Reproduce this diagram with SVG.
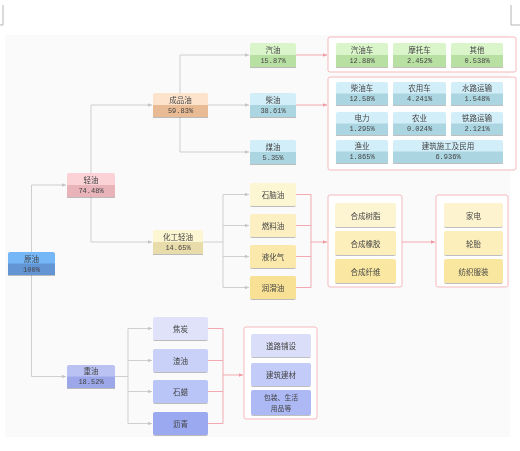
<svg xmlns="http://www.w3.org/2000/svg" width="520" height="451" viewBox="0 0 520 451">
<defs>
<style>
text{font-family:"Noto Sans CJK SC","Liberation Sans",sans-serif;font-size:7.5px;fill:#444;text-anchor:middle;dominant-baseline:central}
.p{font-family:"Liberation Mono","Noto Sans CJK SC",monospace;font-size:7px}
.s{font-size:6.8px}
.gl{fill:none;stroke:#cfcfcf;stroke-width:1}
.pl{fill:none;stroke:#f2a9b0;stroke-width:1}
.fr{fill:#fff;stroke:#f4b9be;stroke-width:1}
.bx{filter:url(#sh)}
.mk{fill:none;stroke:#b5b5b5;stroke-width:1}
</style>
<filter id="sh" x="-10%" y="-10%" width="120%" height="140%"><feDropShadow dx="0" dy="1" stdDeviation="0.6" flood-color="#000" flood-opacity="0.25"/></filter>
<marker id="ag" markerWidth="5" markerHeight="5" refX="4.5" refY="2.5" orient="auto" markerUnits="userSpaceOnUse"><path d="M0,0.5 L4.5,2.5 L0,4.5 Z" fill="#c4c4c4"/></marker>
<marker id="ap" markerWidth="5" markerHeight="5" refX="4.5" refY="2.5" orient="auto" markerUnits="userSpaceOnUse"><path d="M0,0.5 L4.5,2.5 L0,4.5 Z" fill="#f09aa2"/></marker>
</defs>
<rect x="0" y="0" width="520" height="451" fill="#fff"/>
<path class="mk" d="M3,5 V25 H0 M511,5 V25 H520"/>
<rect x="5" y="35" width="505" height="402" fill="#fafafa"/>

<g id="frames">
<rect class="fr" x="328" y="37" width="188" height="35" rx="2"/>
<rect class="fr" x="328" y="77" width="188" height="93" rx="2"/>
<rect class="fr" x="328" y="195" width="74" height="92" rx="2"/>
<rect class="fr" x="436" y="195" width="72" height="92" rx="2"/>
<rect class="fr" x="244" y="327" width="73" height="92" rx="2"/>
</g>

<g id="connectors">
<path class="gl" d="M31.5,252 V185 H66" marker-end="url(#ag)"/>
<path class="gl" d="M31.5,275 V376.5 H66" marker-end="url(#ag)"/>
<path class="gl" d="M91,173 V105 H152" marker-end="url(#ag)"/>
<path class="gl" d="M91,197 V242 H152" marker-end="url(#ag)"/>
<path class="gl" d="M180,93 V55 H249" marker-end="url(#ag)"/>
<path class="gl" d="M208,105 H249" marker-end="url(#ag)"/>
<path class="gl" d="M180,117 V152 H249" marker-end="url(#ag)"/>
<path class="gl" d="M203,242 H223 M223,194.5 V287.5"/>
<path class="gl" d="M223,194.5 H249" marker-end="url(#ag)"/>
<path class="gl" d="M223,225.5 H249" marker-end="url(#ag)"/>
<path class="gl" d="M223,256.5 H249" marker-end="url(#ag)"/>
<path class="gl" d="M223,287.5 H249" marker-end="url(#ag)"/>
<path class="gl" d="M115,376.5 H128 M128,328.5 V423.5"/>
<path class="gl" d="M128,328.5 H152" marker-end="url(#ag)"/>
<path class="gl" d="M128,360.5 H152" marker-end="url(#ag)"/>
<path class="gl" d="M128,391.5 H152" marker-end="url(#ag)"/>
<path class="gl" d="M128,423.5 H152" marker-end="url(#ag)"/>
<path class="pl" d="M296,55 H327" marker-end="url(#ap)"/>
<path class="pl" d="M296,105 H327" marker-end="url(#ap)"/>
<path class="pl" d="M296,194.5 H311 M296,225.5 H311 M296,256.5 H311 M296,287.5 H311 M311,194.5 V287.5"/>
<path class="pl" d="M311,242 H327" marker-end="url(#ap)"/>
<path class="pl" d="M402,242 H435" marker-end="url(#ap)"/>
<path class="pl" d="M208,328.5 H223 M208,360.5 H223 M208,391.5 H223 M208,423.5 H223 M223,328.5 V423.5"/>
<path class="pl" d="M223,375 H243" marker-end="url(#ap)"/>
</g>

<g id="n-yuanyou" class="bx"><rect x="8" y="252" width="47" height="23" rx="2" fill="#74b6f6"/><rect x="8" y="263.5" width="47" height="11.5" fill="#6394d4"/><text x="31.5" y="258">原油</text><text class="p" x="31.5" y="269.5">100%</text></g>
<g id="n-qingyou" class="bx"><rect x="67" y="173" width="48" height="24" rx="2" fill="#fbd2d6"/><rect x="67" y="185" width="48" height="12" fill="#e8b3b9"/><text x="91" y="179">轻油</text><text class="p" x="91" y="191">74.48%</text></g>
<g id="n-chengpinyou" class="bx"><rect x="153" y="93" width="55" height="24" rx="2" fill="#fde2cc"/><rect x="153" y="105" width="55" height="12" fill="#e9bb95"/><text x="180.5" y="99">成品油</text><text class="p" x="180.5" y="111">59.83%</text></g>
<g id="n-huagong" class="bx"><rect x="153" y="230" width="50" height="24" rx="2" fill="#fdf6d2"/><rect x="153" y="242" width="50" height="12" fill="#e8dcab"/><text x="178" y="236">化工轻油</text><text class="p" x="178" y="248">14.65%</text></g>
<g id="n-zhongyou" class="bx"><rect x="67" y="365" width="48" height="23" rx="2" fill="#bac2f4"/><rect x="67" y="376.5" width="48" height="11.5" fill="#9ba7e8"/><text x="91" y="370.8">重油</text><text class="p" x="91" y="382.2">18.52%</text></g>
<g id="n-qiyou" class="bx"><rect x="250" y="43" width="46" height="24" rx="2" fill="#daf5ca"/><rect x="250" y="55" width="46" height="12" fill="#b9e0a3"/><text x="273" y="49">汽油</text><text class="p" x="273" y="61">15.87%</text></g>
<g id="n-chaiyou" class="bx"><rect x="250" y="93" width="46" height="24" rx="2" fill="#d2eef8"/><rect x="250" y="105" width="46" height="12" fill="#abd5e1"/><text x="273" y="99">柴油</text><text class="p" x="273" y="111">38.61%</text></g>
<g id="n-meiyou" class="bx"><rect x="250" y="140" width="46" height="24" rx="2" fill="#d2eef8"/><rect x="250" y="152" width="46" height="12" fill="#abd5e1"/><text x="273" y="146">煤油</text><text class="p" x="273" y="158">5.35%</text></g>

<g id="n-qiyouche" class="bx"><rect x="336" y="43" width="52" height="24" rx="2" fill="#daf5ca"/><rect x="336" y="55" width="52" height="12" fill="#b9e0a3"/><text x="362" y="49">汽油车</text><text class="p" x="362" y="61">12.88%</text></g>
<g id="n-motuoche" class="bx"><rect x="393" y="43" width="53" height="24" rx="2" fill="#daf5ca"/><rect x="393" y="55" width="53" height="12" fill="#b9e0a3"/><text x="419.5" y="49">摩托车</text><text class="p" x="419.5" y="61">2.452%</text></g>
<g id="n-qita" class="bx"><rect x="451" y="43" width="52" height="24" rx="2" fill="#daf5ca"/><rect x="451" y="55" width="52" height="12" fill="#b9e0a3"/><text x="477" y="49">其他</text><text class="p" x="477" y="61">0.538%</text></g>

<g id="n-chaiyouche" class="bx"><rect x="336" y="82" width="52" height="23" rx="2" fill="#d2eef8"/><rect x="336" y="93.5" width="52" height="11.5" fill="#abd5e1"/><text x="362" y="87.8">柴油车</text><text class="p" x="362" y="99.2">12.58%</text></g>
<g id="n-nongyongche" class="bx"><rect x="393" y="82" width="53" height="23" rx="2" fill="#d2eef8"/><rect x="393" y="93.5" width="53" height="11.5" fill="#abd5e1"/><text x="419.5" y="87.8">农用车</text><text class="p" x="419.5" y="99.2">4.241%</text></g>
<g id="n-shuilu" class="bx"><rect x="451" y="82" width="52" height="23" rx="2" fill="#d2eef8"/><rect x="451" y="93.5" width="52" height="11.5" fill="#abd5e1"/><text x="477" y="87.8">水路运输</text><text class="p" x="477" y="99.2">1.548%</text></g>
<g id="n-dianli" class="bx"><rect x="336" y="112" width="52" height="23" rx="2" fill="#d2eef8"/><rect x="336" y="123.5" width="52" height="11.5" fill="#abd5e1"/><text x="362" y="117.8">电力</text><text class="p" x="362" y="129.2">1.295%</text></g>
<g id="n-nongye" class="bx"><rect x="393" y="112" width="53" height="23" rx="2" fill="#d2eef8"/><rect x="393" y="123.5" width="53" height="11.5" fill="#abd5e1"/><text x="419.5" y="117.8">农业</text><text class="p" x="419.5" y="129.2">0.024%</text></g>
<g id="n-tielu" class="bx"><rect x="451" y="112" width="52" height="23" rx="2" fill="#d2eef8"/><rect x="451" y="123.5" width="52" height="11.5" fill="#abd5e1"/><text x="477" y="117.8">铁路运输</text><text class="p" x="477" y="129.2">2.121%</text></g>
<g id="n-yuye" class="bx"><rect x="336" y="140" width="52" height="23" rx="2" fill="#d2eef8"/><rect x="336" y="151.5" width="52" height="11.5" fill="#abd5e1"/><text x="362" y="145.8">渔业</text><text class="p" x="362" y="157.2">1.865%</text></g>
<g id="n-jianzhu" class="bx"><rect x="393" y="140" width="110" height="23" rx="2" fill="#d2eef8"/><rect x="393" y="151.5" width="110" height="11.5" fill="#abd5e1"/><text x="448" y="145.8">建筑施工及民用</text><text class="p" x="448" y="157.2">6.936%</text></g>

<g id="n-shinaoyou" class="bx"><rect x="250" y="183" width="46" height="23" rx="2" fill="#fdf6d3"/><text x="273" y="194.5">石脑油</text></g>
<g id="n-ranliaoyou" class="bx"><rect x="250" y="214" width="46" height="23" rx="2" fill="#fcf0c2"/><text x="273" y="225.5">燃料油</text></g>
<g id="n-yehuaqi" class="bx"><rect x="250" y="245" width="46" height="23" rx="2" fill="#fbe9ac"/><text x="273" y="256.5">液化气</text></g>
<g id="n-runhuayou" class="bx"><rect x="250" y="276" width="46" height="23" rx="2" fill="#f8e094"/><text x="273" y="287.5">润滑油</text></g>

<g id="n-shuzhi" class="bx"><rect x="335" y="203" width="61" height="24" rx="2" fill="#fdf5d2"/><text x="365.5" y="215">合成树脂</text></g>
<g id="n-xiangjiao" class="bx"><rect x="335" y="231" width="61" height="24" rx="2" fill="#fcefbb"/><text x="365.5" y="243">合成橡胶</text></g>
<g id="n-xianwei" class="bx"><rect x="335" y="259" width="61" height="24" rx="2" fill="#fae8a2"/><text x="365.5" y="271">合成纤维</text></g>

<g id="n-jiadian" class="bx"><rect x="444" y="203" width="59" height="24" rx="2" fill="#fdf3ce"/><text x="473.5" y="215">家电</text></g>
<g id="n-luntai" class="bx"><rect x="444" y="231" width="59" height="24" rx="2" fill="#fcefbb"/><text x="473.5" y="243">轮胎</text></g>
<g id="n-fangzhi" class="bx"><rect x="444" y="259" width="59" height="24" rx="2" fill="#fae79f"/><text x="473.5" y="271">纺织服装</text></g>

<g id="n-jiaotan" class="bx"><rect x="153" y="317" width="55" height="23" rx="2" fill="#dfe2f9"/><text x="180.5" y="328.5">焦炭</text></g>
<g id="n-zhayou" class="bx"><rect x="153" y="349" width="55" height="23" rx="2" fill="#cad1f8"/><text x="180.5" y="360.5">渣油</text></g>
<g id="n-shila" class="bx"><rect x="153" y="380" width="55" height="23" rx="2" fill="#b9c4f7"/><text x="180.5" y="391.5">石蜡</text></g>
<g id="n-liqing" class="bx"><rect x="153" y="412" width="55" height="23" rx="2" fill="#9aa9f0"/><text x="180.5" y="423.5">沥青</text></g>

<g id="n-daolu" class="bx"><rect x="251" y="334" width="60" height="23" rx="2" fill="#dadef9"/><text x="281" y="345.5">道路铺设</text></g>
<g id="n-jiancai" class="bx"><rect x="251" y="363" width="60" height="23" rx="2" fill="#c3cbf8"/><text x="281" y="374.5">建筑建材</text></g>
<g id="n-baozhuang" class="bx"><rect x="251" y="390" width="60" height="25" rx="2" fill="#acb9f5"/><text class="s" x="281" y="397">包装、生活</text><text class="s" x="281" y="408">用品等</text></g>
</svg>
